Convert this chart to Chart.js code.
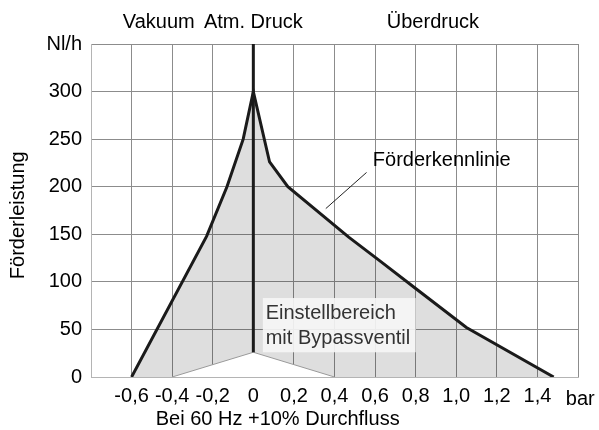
<!DOCTYPE html>
<html>
<head>
<meta charset="utf-8">
<script src="https://cdn.jsdelivr.net/npm/chart.js@4.4.1/dist/chart.umd.min.js"></script>
<style>
  body { margin: 0; background: #fff; }
  #wrap { width: 599px; height: 430px; }
</style>
</head>
<body>
<div id="wrap"><canvas id="pumpChart" width="599" height="430"></canvas></div>
<script>
// Kennlinie (bar / Nl/h)
const druck = [-0.6, -0.23, -0.13, -0.05, 0, 0.08, 0.17, 0.47, 0.63, 0.8, 1.05, 1.48];
const foerderung = [0, 148, 200, 250, 300, 226, 200, 147, 121, 93, 52, 0];

// weisses Dreieck unter dem Einstellbereich
const dreieckX = [-0.4, 0, 0.4];
const dreieckY = [0, 26, 0];

// senkrechte Linie bei Atm. Druck
const atmX = [0, 0];
const atmY = [350, 26];

const xTicks = [-0.8, -0.6, -0.4, -0.2, 0, 0.2, 0.4, 0.6, 0.8, 1.0, 1.2, 1.4, 1.6];
const yTicks = [0, 50, 100, 150, 200, 250, 300, 350];

const pts = (xs, ys) => xs.map((x, i) => ({ x: x, y: ys[i] }));
const FONT = '"Liberation Sans", Arial, sans-serif';

Chart.defaults.font.family = FONT;
Chart.defaults.font.size = 20;
Chart.defaults.color = '#000';

// Beschriftungen
const labelsPlugin = {
  id: 'labels',
  afterDatasetsDraw(chart) {
    const ctx = chart.ctx;
    const xs = chart.scales.x, ys = chart.scales.y;
    const ca = chart.chartArea;
    ctx.save();
    ctx.font = '20px ' + FONT;
    ctx.fillStyle = '#000';
    ctx.textBaseline = 'middle';
    ctx.textAlign = 'center';
    ctx.fillText('Vakuum', xs.getPixelForValue(-0.466), 22);
    ctx.fillText('Atm. Druck', xs.getPixelForValue(0), 22);
    ctx.fillText('Überdruck', xs.getPixelForValue(0.885), 22);
    ctx.fillText('Bei 60 Hz +10% Durchfluss', xs.getPixelForValue(0.12), 419);

    ctx.textAlign = 'left';
    ctx.fillText('bar', xs.getPixelForValue(1.54), ca.bottom + 22);

    // Förderkennlinie + Hinweislinie
    ctx.fillText('Förderkennlinie', xs.getPixelForValue(0.589), ys.getPixelForValue(228));
    ctx.strokeStyle = '#222';
    ctx.lineWidth = 1;
    ctx.beginPath();
    ctx.moveTo(xs.getPixelForValue(0.357), ys.getPixelForValue(177));
    ctx.lineTo(xs.getPixelForValue(0.558), ys.getPixelForValue(215));
    ctx.stroke();

    // Einstellbereich Kasten
    const bx = xs.getPixelForValue(0.047), by = ys.getPixelForValue(83);
    ctx.fillStyle = 'rgba(245,245,245,0.92)';
    ctx.fillRect(bx, by, xs.getPixelForValue(0.8) - bx, ys.getPixelForValue(26) - by);
    ctx.fillStyle = '#333';
    ctx.fillText('Einstellbereich', xs.getPixelForValue(0.061), ys.getPixelForValue(67));
    ctx.fillText('mit Bypassventil', xs.getPixelForValue(0.061), ys.getPixelForValue(41));

    // Y-Achsentitel
    ctx.fillStyle = '#000';
    ctx.translate(18, ys.getPixelForValue(170));
    ctx.rotate(-Math.PI / 2);
    ctx.textAlign = 'center';
    ctx.fillText('Förderleistung', 0, 0);
    ctx.restore();
  }
};

new Chart(document.getElementById('pumpChart'), {
  type: 'line',
  data: {
    datasets: [
      {
        // Kennlinie (nur Linie)
        data: pts(druck, foerderung),
        borderColor: '#1a1a1a',
        borderWidth: 3,
        pointRadius: 0,
        fill: false,
        order: 0
      },
      {
        // Atm. Druck Linie
        data: pts(atmX, atmY),
        borderColor: '#1a1a1a',
        borderWidth: 3,
        pointRadius: 0,
        fill: false,
        order: 1
      },
      {
        data: pts(dreieckX, dreieckY),
        borderColor: '#9a9a9a',
        borderWidth: 1,
        backgroundColor: '#ffffff',
        pointRadius: 0,
        fill: 'origin',
        order: 2
      },
      {
        // graue Flaeche unter der Kennlinie
        data: pts(druck, foerderung),
        borderWidth: 0,
        borderColor: 'rgba(0,0,0,0)',
        backgroundColor: 'rgba(0,0,0,0.13)',
        pointRadius: 0,
        fill: 'origin',
        order: 3
      }
    ]
  },
  options: {
    responsive: false,
    animation: false,
    layout: { padding: { left: 0, right: 21, top: 44, bottom: 0 } },
    plugins: {
      legend: { display: false },
      tooltip: { enabled: false }
    },
    scales: {
      x: {
        type: 'linear',
        min: -0.8,
        max: 1.6,
        afterFit: s => { s.height = 53; },
        afterBuildTicks: s => { s.ticks = xTicks.map(v => ({ value: v })); },
        grid: { color: '#8c8c8c', drawTicks: false },
        border: { color: '#b4b4b4' },
        ticks: {
          padding: 7,
          maxRotation: 0,
          autoSkip: false,
          callback: v => (v <= -0.8 || v >= 1.6) ? '' : (v === 0 ? '0' : v.toFixed(1).replace('.', ','))
        }
      },
      y: {
        min: 0,
        max: 350,
        afterFit: s => { s.width = 91; },
        afterBuildTicks: s => { s.ticks = yTicks.map(v => ({ value: v })); },
        grid: { color: '#8c8c8c', drawTicks: false },
        border: { color: '#b4b4b4' },
        ticks: {
          padding: 9,
          callback: v => v === 350 ? 'Nl/h' : String(v)
        }
      }
    }
  },
  plugins: [labelsPlugin]
});
</script>
</body>
</html>
